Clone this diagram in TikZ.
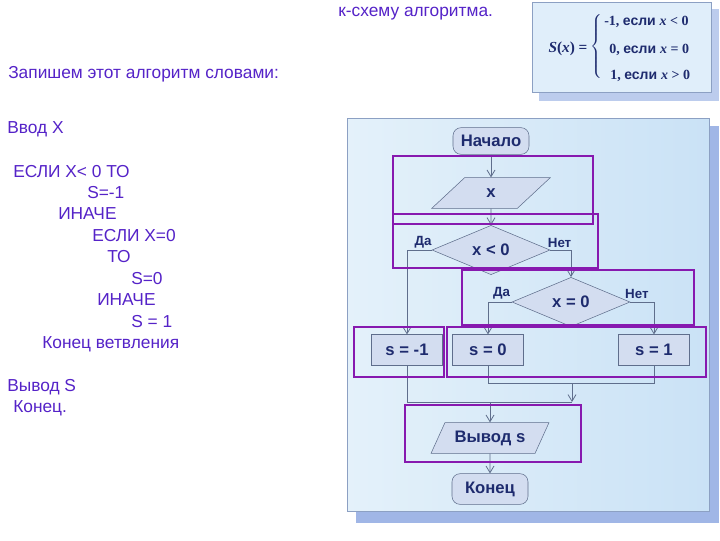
\documentclass[tikz,border=0pt]{standalone}
\usepackage{fontspec}
\setmainfont{Liberation Sans}
\newfontfamily\tmsfont{Liberation Serif}
\usetikzlibrary{shapes.geometric, arrows.meta, positioning}

\definecolor{txtviolet}{RGB}{85,35,200}
\definecolor{hlpurple}{RGB}{135,25,175}
\definecolor{ink}{RGB}{30,43,110}
\definecolor{flowline}{RGB}{95,110,140}
\definecolor{shapefill}{RGB}{211,221,240}
\definecolor{panelshadow}{RGB}{160,182,230}
\definecolor{panelborder}{RGB}{140,160,195}
\definecolor{boxfill}{RGB}{224,238,250}

\begin{document}
\begin{tikzpicture}[x=0.75pt, y=-0.75pt,
	txt/.style={text=txtviolet, anchor=west, inner sep=0pt, font=\fontsize{13}{15.6}\selectfont},
	fml/.style={text=ink, inner sep=0pt, font=\fontsize{10.5}{12.6}\selectfont\bfseries},
	term/.style={draw=flowline, fill=shapefill, rounded corners=6pt, minimum width=57pt, minimum height=20pt, inner sep=2pt, text=ink, font=\fontsize{12.5}{15}\selectfont\bfseries},
	io/.style={trapezium, trapezium left angle=57, trapezium right angle=123, trapezium stretches=true, draw=flowline, fill=shapefill, minimum width=89pt, minimum height=23pt, inner sep=1pt, text=ink, font=\fontsize{12.5}{15}\selectfont\bfseries},
	cond/.style={diamond, draw=flowline, fill=shapefill, minimum width=88.5pt, minimum height=33pt, inner sep=0pt, text=ink, font=\fontsize{12.5}{15}\selectfont\bfseries},
	proc/.style={rectangle, draw=flowline, fill=shapefill, minimum width=53pt, minimum height=23pt, text=ink, font=\fontsize{12.5}{15}\selectfont\bfseries},
	lbl/.style={text=ink, inner sep=0pt, font=\fontsize{10}{12}\selectfont\bfseries},
	flow/.style={draw=flowline, line width=0.6pt, -{Straight Barb[length=5pt, width=6pt]}},
	link/.style={draw=flowline, line width=0.6pt},
	hl/.style={draw=hlpurple, line width=2.2pt}]
	\useasboundingbox [fill=white] (0,0) rectangle (720,540);
	% text on the left
	\node [txt] (ttl) at (338,14) {к-схему алгоритма.};
	\node [txt] (intro) at (8,74) {Запишем этот алгоритм словами:};
	\node [txt] (l1) at (7,129) {Ввод X};
	\node [txt] (l2) at (13,172) {ЕСЛИ X< 0 ТО};
	\node [txt] (l3) at (87,193) {S=-1};
	\node [txt] (l4) at (58,214) {ИНАЧЕ};
	\node [txt] (l5) at (92,236) {ЕСЛИ X=0};
	\node [txt] (l6) at (107,257) {ТО};
	\node [txt] (l7) at (131,279) {S=0};
	\node [txt] (l8) at (97,300) {ИНАЧЕ};
	\node [txt] (l9) at (131,322) {S = 1};
	\node [txt] (l10) at (42,344) {Конец ветвления};
	\node [txt] (l11) at (7,387) {Вывод S};
	\node [txt] (l12) at (13,408) {Конец.};
	% formula box
	\fill [panelshadow!70] (539,9) rectangle (719,101);
	\draw [panelborder, fill=boxfill] (532,2) rectangle (711,92);
	\node [fml, font=\fontsize{11.5}{13}\selectfont\bfseries] (sx) at (568,49) {{\tmsfont\itshape S}{\tmsfont(\itshape x\/\upshape) =}};
	\node [fml] (brace) at (597,47) {$\left\{\vrule height 22pt depth 22pt width 0pt\right.$};
	\node [fml, anchor=west] (c1) at (604,22) {{\tmsfont -1, }если {\tmsfont\itshape x}{\tmsfont{} < 0}};
	\node [fml, anchor=west] (c2) at (609,50) {{\tmsfont 0, }если {\tmsfont\itshape x}{\tmsfont{} = 0}};
	\node [fml, anchor=west] (c3) at (610,76) {{\tmsfont 1, }если {\tmsfont\itshape x}{\tmsfont{} > 0}};
	% panel of the flowchart
	\fill [panelshadow] (356,126) rectangle (719,523);
	\draw [panelborder, left color={rgb,255:red,228;green,241;blue,250}, right color={rgb,255:red,202;green,226;blue,246}] (347,118) rectangle (709,511);
	\node [term] (start) at (491,141) {Начало};
	\node [io] (inp) at (491,193) {x};
	\node [cond] (d1) at (491,250) {x < 0};
	\node [cond] (d2) at (571,302) {x = 0};
	\node [proc] (sm1) at (407,350) {s = -1};
	\node [proc] (s0) at (488,350) {s = 0};
	\node [proc] (s1) at (654,350) {s = 1};
	\node [io] (out) at (490,438) {Вывод s};
	\node [term, minimum height=23pt] (stop) at (490,489) {Конец};
	\coordinate (j1) at (572,383);
	\coordinate (j2) at (572,402);
	\draw [flow] (start) -- (inp);
	\draw [flow] (inp) -- (d1);
	\draw [flow] (d1.west) -| (sm1.north);
	\draw [flow] (d1.east) -| (d2.north);
	\draw [flow] (d2.west) -| (s0.north);
	\draw [flow] (d2.east) -| (s1.north);
	\draw [link] (s0.south) |- (j1) -| (s1.south);
	\draw [flow] (j1) -- (j2);
	\draw [link] (sm1.south) |- (j2);
	\draw [flow] (out.north |- j2) -- (out.north);
	\draw [flow] (out) -- (stop);
	\node [lbl, above left=1.5pt and 0pt of d1.west] (da1) {Да};
	\node [lbl, above right=1.5pt and -2pt of d1.east] (net1) {Нет};
	\node [lbl, above left=2pt and 1pt of d2.west] (da2) {Да};
	\node [lbl, above right=2pt and -4pt of d2.east] (net2) {Нет};
	% purple frames
	\draw [hl] (393,156) rectangle (593,224);
	\draw [hl] (393,214) rectangle (598,268);
	\draw [hl] (462,270) rectangle (694,325);
	\draw [hl] (354,327) rectangle (444,377);
	\draw [hl] (447,327) rectangle (706,377);
	\draw [hl] (405,405) rectangle (581,462);
\end{tikzpicture}
\end{document}
